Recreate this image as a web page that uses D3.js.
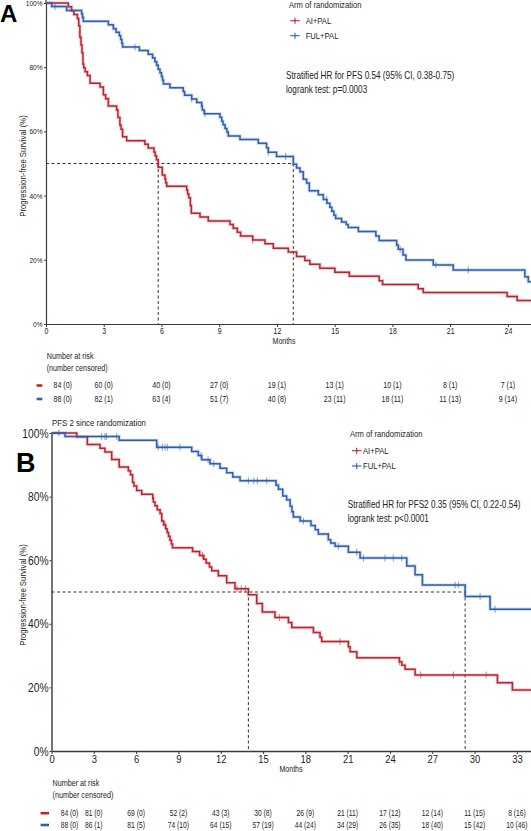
<!DOCTYPE html>
<html>
<head>
<meta charset="utf-8">
<script src="https://cdn.jsdelivr.net/npm/d3@7"></script>
<style>
  html, body { margin: 0; padding: 0; background: #fff; }
  svg { display: block; }
</style>
</head>
<body>
<div id="chart"></div>
<script>
// ---------- data ----------
// panel A: PFS, [month, % progression-free]
var pfsAiPal = [
  [0,100],[1.16,98.8],[1.33,97.6],[1.45,96.4],[1.63,95.2],[1.70,92.9],[1.76,89.3],[1.82,86.9],[1.87,84.5],
  [1.92,81.0],[1.96,79.8],[2.03,78.6],[2.15,77.4],[2.29,75.0],[2.81,73.8],[2.98,71.4],[3.10,70.2],[3.24,67.9],
  [3.67,66.7],[3.74,64.3],[3.84,61.9],[3.90,60.7],[3.98,58.3],[4.19,57.1],[5.14,56.0],[5.31,54.8],[5.61,53.6],
  [5.67,52.4],[5.74,51.2],[5.83,48.8],[6.04,46.4],[6.18,45.2],[6.22,44.0],[6.27,42.9],[7.31,41.7],[7.36,40.5],
  [7.42,39.3],[7.50,36.9],[7.55,34.5],[8.00,33.3],[8.43,32.1],[9.56,31.0],[9.73,29.8],[9.94,28.6],[10.11,27.4],
  [10.74,26.2],[11.38,25.0],[11.81,23.6],[12.59,22.4],[13.02,21.0],[13.45,19.8],[13.71,18.6],[14.23,17.4],
  [15.01,16.1],[15.76,14.9],[17.31,13.5],[17.49,12.3],[19.34,11.0],[19.60,9.8],[23.96,8.6],[24.48,7.3]
];
var pfsFulPal = [
  [0,100],[0.30,98.9],[1.07,97.7],[1.85,96.6],[1.90,95.5],[1.94,94.3],[3.24,93.2],[3.50,92.0],[3.64,90.9],
  [3.81,89.8],[3.88,88.6],[3.94,87.5],[3.98,86.3],[4.85,85.2],[5.31,84.0],[5.54,82.9],[5.66,81.7],[5.75,80.6],
  [5.83,79.4],[5.92,78.3],[6.00,77.1],[6.05,76.0],[6.10,74.8],[6.44,73.6],[7.13,72.4],[7.20,71.3],[7.57,70.1],
  [7.83,69.0],[8.09,67.8],[8.12,66.7],[8.22,65.5],[9.04,64.4],[9.13,63.2],[9.20,62.1],[9.30,60.9],[9.40,59.8],
  [9.47,58.6],[10.08,57.5],[11.03,56.3],[11.46,54.9],[11.55,53.5],[11.98,52.2],[12.85,49.8],[13.02,48.6],
  [13.20,47.4],[13.37,45.1],[13.54,43.9],[13.68,41.5],[14.15,40.3],[14.41,38.8],[14.60,37.6],[14.75,36.4],
  [14.85,35.1],[14.96,33.9],[15.05,32.9],[15.36,31.8],[15.60,31.0],[15.70,30.1],[16.23,28.8],[17.14,27.4],
  [17.31,26.0],[18.22,24.6],[18.30,23.3],[18.55,21.5],[18.70,19.9],[20.12,18.4],[21.16,16.8],[24.88,14.7],
  [25.06,13.2]
];
var censAiPalA = [10.74];
var censFulPalA = [0.47, 4.62, 7.57, 8.26, 11.55, 12.45, 14.58, 18.4, 20.26, 21.94];

// panel B: PFS2
var pfs2AiPal = [
  [0,100],[1.79,98.8],[2.54,96.4],[3.44,95.2],[3.79,94.0],[4.27,91.7],[4.80,89.3],[5.45,88.1],[5.60,86.9],
  [5.75,84.5],[5.85,83.3],[6.04,81.9],[6.40,80.7],[7.18,79.5],[7.22,78.3],[7.34,77.1],[7.50,75.9],[7.70,74.7],
  [7.82,72.3],[7.95,71.1],[8.10,69.9],[8.20,68.7],[8.30,67.5],[8.40,66.3],[8.50,65.1],[8.58,63.9],[10.00,62.7],
  [10.50,61.5],[10.80,60.3],[10.96,59.1],[11.20,57.9],[11.36,56.7],[11.83,55.1],[12.42,52.9],[13.01,51.0],
  [13.96,49.1],[14.55,46.4],[14.95,43.7],[15.85,42.0],[16.80,40.4],[17.04,38.8],[18.57,37.3],[19.04,35.8],
  [19.16,34.4],[21.05,32.8],[21.17,31.2],[21.65,29.3],[24.67,28.1],[24.84,27.0],[25.07,25.7],[25.78,23.9],
  [31.62,21.5],[32.68,19.2]
];
var pfs2FulPal = [
  [0,100],[0.96,98.9],[4.80,97.7],[7.46,95.5],[9.94,94.2],[10.41,92.9],[10.65,91.6],[11.24,90.3],[11.95,88.9],
  [12.42,87.5],[12.85,86.2],[13.37,85.0],[15.92,83.6],[16.09,82.3],[16.40,80.2],[16.67,79.0],[16.92,77.0],
  [17.05,75.2],[17.15,73.6],[17.63,72.3],[18.40,70.9],[18.70,69.6],[18.92,68.2],[19.63,66.4],[19.80,65.4],
  [20.11,64.4],[21.05,62.5],[21.88,60.7],[25.19,58.2],[25.78,55.4],[26.30,52.2],[29.33,48.6],[31.10,44.6]
];
var censAiPalB = [8.05, 10.7, 13.15, 13.45, 13.75, 16.16, 20.46, 24.67, 26.18, 28.5, 30.82];
var censFulPalB = [0.53, 3.55, 3.79, 3.9, 4.62, 7.57, 7.86, 8.05, 8.21, 9.1, 10.6, 11.1, 11.5, 13.96, 14.35,
  14.6, 15.26, 17.86, 20.34, 21.64, 22.12, 23.65, 24.24, 24.84, 28.62, 28.85, 30.39, 31.45];

// number at risk (number censored)
var riskTimesA = [0, 3, 6, 9, 12, 15, 18, 21, 24];
var riskAiA = [84, 60, 40, 27, 19, 13, 10, 8, 7];
var censAiA = [0, 0, 0, 0, 1, 1, 1, 1, 1];
var riskFulA = [88, 82, 63, 51, 40, 23, 18, 11, 9];
var censFulA = [0, 1, 4, 7, 8, 11, 11, 13, 14];

var riskTimesB = [0, 3, 6, 9, 12, 15, 18, 21, 24, 27, 30, 33];
var riskAiB = [84, 81, 69, 52, 43, 30, 26, 21, 17, 12, 11, 8];
var censAiB = [0, 0, 0, 2, 3, 8, 9, 11, 12, 14, 15, 16];
var riskFulB = [88, 86, 81, 74, 64, 57, 44, 34, 26, 18, 15, 10];
var censFulB = [0, 1, 5, 10, 15, 19, 24, 29, 35, 40, 42, 46];

var yTicks = [0, 20, 40, 60, 80, 100];
var arms = ['AI+PAL', 'FUL+PAL'];

// ---------- drawing ----------
var w = 531, h = 831;
var sans = "'Liberation Sans',Arial,sans-serif";
var squeeze = 0.82;   // mimic the narrow face of the original
var red = '#bb2530', blue = '#2f5fb0', ink = '#222', axisCol = '#3a3a3a';

var svg = d3.select('#chart').append('svg')
  .attr('width', w)
  .attr('height', h);

// narrow text helper
function txt(g, x, y, str, size, anchor, rot) {
  return g.append('text')
    .attr('transform', 'translate(' + x + ',' + y + ')' + (rot ? ' rotate(' + rot + ')' : '') +
      ' scale(' + squeeze + ',1)')
    .attr('text-anchor', anchor || 'start')
    .attr('dominant-baseline', 'central')
    .style('font-family', sans)
    .style('font-size', size + 'px')
    .attr('fill', ink)
    .text(str);
}

// value of a step curve at time t
function survAt(curve, t) {
  var s = curve[0][1];
  curve.forEach(function(d) { if (d[0] <= t) s = d[1]; });
  return s;
}
function median(curve) {
  var m = curve.find(function(d) { return d[1] <= 50; });
  return m ? m[0] : null;
}

function drawPanel(p) {
  var x = d3.scaleLinear().domain([0, p.maxT]).range([p.left, p.right]);
  var y = d3.scaleLinear().domain([0, 100]).range([p.bottom, p.top]);
  var g = svg.append('g');

  // axes
  var gx = g.append('g')
    .attr('transform', 'translate(0,' + p.bottom + ')')
    .call(d3.axisBottom(x).tickValues(p.ticks).tickSize(3).tickSizeOuter(0).tickPadding(p.xPad));
  var gy = g.append('g')
    .attr('transform', 'translate(' + p.left + ',0)')
    .call(d3.axisLeft(y).tickValues(yTicks).tickSize(2).tickSizeOuter(0).tickPadding(p.yPad)
      .tickFormat(function(d) { return d + '%'; }));
  [gx, gy].forEach(function(a) {
    a.select('.domain').attr('stroke', axisCol).attr('stroke-width', p.axisW);
    a.selectAll('.tick line').attr('stroke', axisCol).attr('stroke-width', 1);
    a.selectAll('text').attr('fill', ink).style('font-family', sans)
      .attr('transform', 'scale(' + squeeze + ',1)');
  });
  gx.selectAll('text').style('font-size', p.xFont + 'px');
  gy.selectAll('text').style('font-size', p.yFont + 'px')
    .attr('x', -(2 + p.yPad) / squeeze);
  if (p.axisTop !== undefined) {
    g.append('line').attr('x1', p.left).attr('x2', p.left).attr('y1', p.axisTop).attr('y2', y(100))
      .attr('stroke', axisCol).attr('stroke-width', p.axisW);
  }

  // medians
  var meds = [median(p.curves[0]), median(p.curves[1])];
  var dash = '3,2.5';
  g.append('line')
    .attr('x1', x(0)).attr('x2', x(d3.max(meds))).attr('y1', y(50)).attr('y2', y(50))
    .attr('stroke', '#333').attr('stroke-width', 1).attr('stroke-dasharray', dash);
  g.selectAll('.med').data(meds).enter().append('line')
    .attr('x1', function(d) { return x(d); }).attr('x2', function(d) { return x(d); })
    .attr('y1', y(50)).attr('y2', y(0))
    .attr('stroke', '#333').attr('stroke-width', 1).attr('stroke-dasharray', dash);

  // curves
  var line = d3.line()
    .x(function(d) { return x(d[0]); })
    .y(function(d) { return y(d[1]); })
    .curve(d3.curveStepAfter);
  var colors = [red, blue];
  p.curves.forEach(function(c, i) {
    var full = c.concat([[p.maxT, c[c.length - 1][1]]]);
    g.append('path').attr('d', line(full)).attr('fill', 'none')
      .attr('stroke', colors[i]).attr('stroke-opacity', 0.25).attr('stroke-width', 3.2);
    g.append('path').attr('d', line(full)).attr('fill', 'none')
      .attr('stroke', colors[i]).attr('stroke-width', 1.5);
    g.selectAll('.cens' + i).data(p.cens[i]).enter().append('line')
      .attr('x1', function(d) { return x(d); }).attr('x2', function(d) { return x(d); })
      .attr('y1', function(d) { return y(survAt(c, d)) - 3.5; })
      .attr('y2', function(d) { return y(survAt(c, d)) + 3.5; })
      .attr('stroke', colors[i]).attr('stroke-opacity', 0.55).attr('stroke-width', 1.1);
  });

  // axis titles
  txt(g, p.monthsX, p.monthsY, 'Months', p.monthsFont, 'middle');
  txt(g, p.yTitleX, p.yTitleY, 'Progression-free Survival (%)', 9.5, 'middle', -90);

  // legend
  txt(g, p.legX, p.legY, 'Arm of randomization', 9.3);
  arms.forEach(function(a, i) {
    var cy = p.legItemY[i];
    g.append('line').attr('x1', p.legMarkX - 4.7).attr('x2', p.legMarkX + 4.7).attr('y1', cy).attr('y2', cy)
      .attr('stroke', colors[i]).attr('stroke-width', 1.1);
    g.append('line').attr('x1', p.legMarkX).attr('x2', p.legMarkX).attr('y1', cy - 3).attr('y2', cy + 3)
      .attr('stroke', colors[i]).attr('stroke-width', 1.1);
    txt(g, p.legTextX, cy, a, 9.3);
  });
  p.stats.forEach(function(s, i) {
    txt(g, p.statX, p.statY[i], s, 10);
  });
  if (p.subtitle) txt(g, p.subX, p.subY, p.subtitle, 9.6);

  // panel letter
  g.append('text').attr('x', p.letterX).attr('y', p.letterY)
    .style('font-family', sans).style('font-weight', 'bold')
    .style('font-size', p.letterSize + 'px').attr('fill', '#000').text(p.letter);

  // number at risk table
  ['Number at risk', '(number censored)'].forEach(function(t, i) {
    txt(g, p.riskHeadX, p.riskHeadY[i], t, 8.8);
  });
  p.risk.forEach(function(r, i) {
    var ry = p.riskRowY[i];
    g.append('line').attr('x1', p.riskMark[0]).attr('x2', p.riskMark[1]).attr('y1', ry).attr('y2', ry)
      .attr('stroke', colors[i]).attr('stroke-width', 2.6);
    p.riskTimes.forEach(function(d, j) {
      txt(g, x(d) + (j === 0 ? p.riskFirstOff : 0), ry, r.n[j] + ' (' + r.c[j] + ')', p.riskFont, 'middle');
    });
  });
}

drawPanel({
  letter: 'A', letterX: 0, letterY: 22, letterSize: 24,
  left: 46, right: 531, maxT: 25.2, top: 3, bottom: 324, axisTop: 0,
  ticks: d3.range(0, 25, 3), xFont: 8.5, yFont: 8, xPad: 1, yPad: 1.5, axisW: 1.2,
  curves: [pfsAiPal, pfsFulPal], cens: [censAiPalA, censFulPalA],
  monthsX: 284, monthsY: 341.5, monthsFont: 8.5,
  yTitleX: 23, yTitleY: 166,
  legX: 289, legY: 4.5, legMarkX: 295, legTextX: 305.7, legItemY: [20.7, 35.7],
  statX: 286, statY: [75.7, 90],
  stats: ['Stratified HR for PFS 0.54 (95% CI, 0.38-0.75)', 'logrank test: p=0.0003'],
  riskHeadX: 46.7, riskHeadY: [356, 368.6], riskRowY: [385.5, 399], riskMark: [36.6, 42.3],
  riskFirstOff: 16.7, riskFont: 8.6, riskTimes: riskTimesA,
  risk: [{ n: riskAiA, c: censAiA }, { n: riskFulA, c: censFulA }]
});

drawPanel({
  letter: 'B', letterX: 16, letterY: 472, letterSize: 27,
  left: 51.5, right: 531, maxT: 34, top: 433, bottom: 751,
  ticks: d3.range(0, 34, 3), xFont: 11.5, yFont: 12.5, xPad: 0.5, yPad: 1, axisW: 1.4,
  curves: [pfs2AiPal, pfs2FulPal], cens: [censAiPalB, censFulPalB],
  monthsX: 291, monthsY: 769, monthsFont: 8.6,
  yTitleX: 23, yTitleY: 595,
  subtitle: 'PFS 2 since randomization', subX: 52, subY: 423,
  legX: 350, legY: 433.3, legMarkX: 356.7, legTextX: 363, legItemY: [450.7, 466],
  statX: 347.7, statY: [505, 518.3],
  stats: ['Stratified HR for PFS2 0.35 (95% CI, 0.22-0.54)', 'logrank test: p<0.0001'],
  riskHeadX: 52.5, riskHeadY: [783.7, 794.9], riskRowY: [813.2, 825], riskMark: [40.6, 49],
  riskFirstOff: 18, riskFont: 8.2, riskTimes: riskTimesB,
  risk: [{ n: riskAiB, c: censAiB }, { n: riskFulB, c: censFulB }]
});
</script>
</body>
</html>
